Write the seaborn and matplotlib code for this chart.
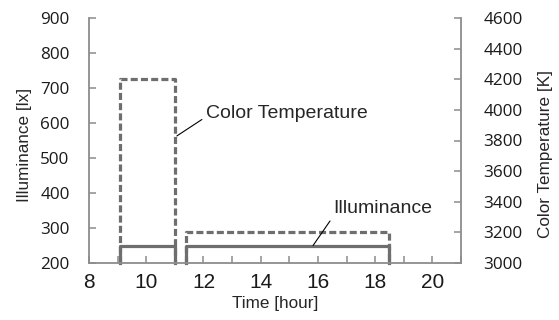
import matplotlib
matplotlib.use("Agg")
import matplotlib.pyplot as plt
import seaborn as sns
import pandas as pd

# ---- data ----
period_start = [9.1, 11.4]        # hour
period_end = [11.0, 18.5]         # hour
illuminance = [250, 250]          # lx
color_temp = [4200, 3200]         # K
x_tick_labels = [8, 10, 12, 14, 16, 18, 20]
lux_ticks = [200, 300, 400, 500, 600, 700, 800, 900]
cct_ticks = [3000, 3200, 3400, 3600, 3800, 4000, 4200, 4400, 4600]

LINE = "#6e6e6e"
SPINE = "#8c8c8c"

sns.set_style("ticks")
plt.rcParams["font.family"] = ["Liberation Sans", "DejaVu Sans"]

fig = plt.figure(figsize=(5.59, 3.2), dpi=100)
ax = fig.add_axes([89 / 559, 1 - 263 / 320, (461 - 89) / 559, (263 - 18) / 320])
ax2 = ax.twinx()

ax.set_xlim(8, 21)
ax.set_ylim(lux_ticks[0], lux_ticks[-1])
ax2.set_ylim(cct_ticks[0], cct_ticks[-1])


def outline(starts, ends, values, base):
    rows = []
    for i, (s, e, v) in enumerate(zip(starts, ends, values)):
        for t, y in ((s, base), (s, v), (e, v), (e, base)):
            rows.append({"time": t, "value": y, "period": i})
    return pd.DataFrame(rows)


df_cct = outline(period_start, period_end, color_temp, cct_ticks[0])
df_lux = outline(period_start, period_end, illuminance, lux_ticks[0])

for p, d in df_cct.groupby("period"):
    sns.lineplot(data=d, x="time", y="value", ax=ax2, sort=False, estimator=None,
                 color=LINE, lw=2.3, dashes=False, clip_on=False)
    ax2.lines[-1].set_dashes((2.2, 1.0))
    ax2.lines[-1].set_solid_capstyle("projecting")
    ax2.lines[-1].set_dash_capstyle("butt")

for p, d in df_lux.groupby("period"):
    sns.lineplot(data=d, x="time", y="value", ax=ax, sort=False, estimator=None,
                 color=LINE, lw=2.3, clip_on=False)
    ax.lines[-1].set_solid_capstyle("projecting")

ax.set_zorder(ax2.get_zorder() + 1)
ax.patch.set_visible(False)

# ticks
ax.set_xticks(x_tick_labels)
ax.set_xticks(range(9, 22, 2), minor=True)
ax.set_xticklabels([str(v) for v in x_tick_labels], fontsize=15)
ax.set_yticks(lux_ticks)
ax.set_yticklabels([str(v) for v in lux_ticks], fontsize=12.3, family="Open Sans")
ax2.set_yticks(cct_ticks)
ax2.set_yticklabels([str(v) for v in cct_ticks], fontsize=12.3, family="Open Sans")

for a in (ax, ax2):
    a.tick_params(axis="both", which="both", direction="in", length=5, width=1.1,
                  color=SPINE, labelcolor="#1a1a1a")
    for s in a.spines.values():
        s.set_color(SPINE)
        s.set_linewidth(1.3)
    a.spines["top"].set_visible(False)
ax.tick_params(axis="x", pad=7)
ax.tick_params(axis="y", pad=14)
ax2.tick_params(axis="y", pad=16)
ax.spines["right"].set_visible(False)
ax2.spines["left"].set_visible(False)
ax2.spines["bottom"].set_visible(False)
ax2.grid(False)
ax.grid(False)

ax.set_xlabel("Time [hour]", fontsize=12.3, labelpad=3)
ax.set_ylabel("Illuminance [lx]", fontsize=12.3)
ax2.set_ylabel("Color Temperature [K]", fontsize=12.3)
ax.yaxis.set_label_coords(-0.153, 0.48)
ax2.yaxis.set_label_coords(1.207, 0.445)

# annotations
ax.annotate("Color Temperature", xy=(11.07, 563), xytext=(12.1, 628),
            fontsize=14, ha="left", va="center",
            arrowprops=dict(arrowstyle="-", color="black", lw=0.8,
                            shrinkA=1, shrinkB=0, relpos=(0, 0.3)))
ax.annotate("Illuminance", xy=(15.83, 250), xytext=(16.55, 357),
            fontsize=14, ha="left", va="center",
            arrowprops=dict(arrowstyle="-", color="black", lw=0.8,
                            shrinkA=1, shrinkB=0, relpos=(0, 0.05)))

fig.savefig("out.png", dpi=100)
